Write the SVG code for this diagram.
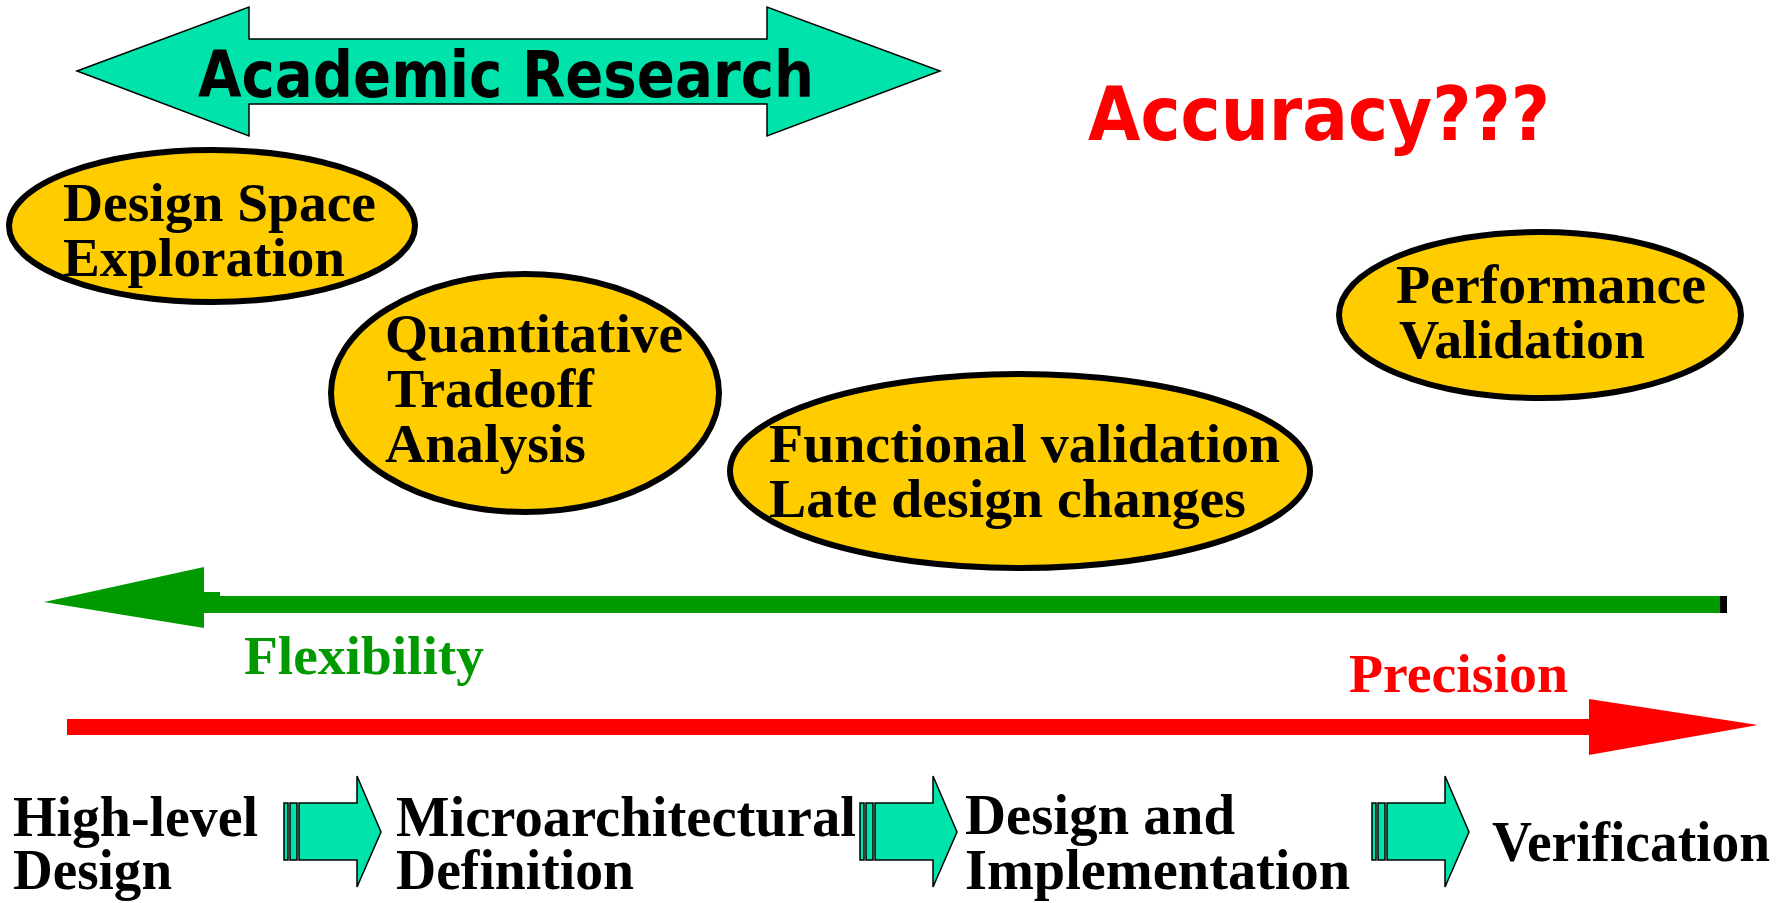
<svg xmlns="http://www.w3.org/2000/svg" xmlns:xlink="http://www.w3.org/1999/xlink" width="1785" height="903" viewBox="0 0 1785 903">
  <style>
    .ell { fill: #FFCC00; stroke: #000; stroke-width: 6; }
    .et { font-family: "Liberation Serif", "Times New Roman", serif; font-weight: bold; font-size: 54px; fill: #000; }
    .bt { font-family: "Liberation Serif", "Times New Roman", serif; font-weight: bold; font-size: 56px; fill: #000; }
    .teal { fill: #00E3AA; stroke: #000; stroke-width: 1.5; stroke-linejoin: miter; }
    .sans { font-family: "DejaVu Sans", Verdana, sans-serif; font-weight: bold; }
  </style>
  <defs>
    <g id="striped-arrow">
      <rect class="teal" x="284" y="803" width="4" height="57"/>
      <rect class="teal" x="290" y="803" width="7" height="57"/>
      <polygon class="teal" points="299,803 357,803 357,776 381,832 357,887 357,860 299,860"/>
    </g>
  </defs>
  <rect width="1785" height="903" fill="#fff"/>

  <g id="academic-research">
    <polygon class="teal" points="77,71 249,7 249,39 767,39 767,7 940,71 767,136 767,104 249,104 249,136"/>
    <text class="sans" x="198" y="97" font-size="64" textLength="616" lengthAdjust="spacingAndGlyphs">Academic Research</text>
  </g>

  <g id="accuracy">
    <text class="sans" x="1088" y="140" font-size="75" fill="#FF0000" textLength="462" lengthAdjust="spacingAndGlyphs">Accuracy???</text>
  </g>

  <g id="design-space-exploration">
    <ellipse class="ell" cx="212" cy="226" rx="203" ry="76"/>
    <text class="et" x="63" y="221" textLength="313" lengthAdjust="spacingAndGlyphs">Design Space</text>
    <text class="et" x="63" y="276" textLength="282" lengthAdjust="spacingAndGlyphs">Exploration</text>
  </g>

  <g id="quantitative-tradeoff">
    <ellipse class="ell" cx="525" cy="393" rx="194" ry="119"/>
    <text class="et" x="385" y="352" textLength="298" lengthAdjust="spacingAndGlyphs">Quantitative</text>
    <text class="et" x="387" y="407" textLength="207" lengthAdjust="spacingAndGlyphs">Tradeoff</text>
    <text class="et" x="385" y="462" textLength="201" lengthAdjust="spacingAndGlyphs">Analysis</text>
  </g>

  <g id="functional-validation">
    <ellipse class="ell" cx="1020" cy="471" rx="290" ry="97"/>
    <text class="et" x="769" y="462" textLength="511" lengthAdjust="spacingAndGlyphs">Functional validation</text>
    <text class="et" x="769" y="517" textLength="477" lengthAdjust="spacingAndGlyphs">Late design changes</text>
  </g>

  <g id="performance-validation">
    <ellipse class="ell" cx="1540" cy="315" rx="201" ry="83"/>
    <text class="et" x="1396" y="303" textLength="310" lengthAdjust="spacingAndGlyphs">Performance</text>
    <text class="et" x="1399" y="358" textLength="246" lengthAdjust="spacingAndGlyphs">Validation</text>
  </g>

  <g id="connectors">
    <!-- Flexibility arrow (green, pointing left) -->
    <rect x="220" y="596" width="1500" height="17" fill="#009900"/>
    <rect x="1720" y="596" width="7" height="17" fill="#000"/>
    <rect x="204" y="592" width="16" height="21" fill="#009900"/>
    <polygon points="44,602 204,567 204,628" fill="#009900"/>
    <!-- Precision arrow (red, pointing right) -->
    <rect x="67" y="719" width="1523" height="16" fill="#FF0000"/>
    <polygon points="1589,699 1758,725 1589,755" fill="#FF0000"/>
    <!-- process flow block arrows -->
    <use xlink:href="#striped-arrow"/>
    <use xlink:href="#striped-arrow" transform="translate(576,0)"/>
    <use xlink:href="#striped-arrow" transform="translate(1088,0)"/>
  </g>

  <g id="axis-labels">
    <text class="et" x="244" y="674" style="fill:#009900" textLength="240" lengthAdjust="spacingAndGlyphs">Flexibility</text>
    <text class="et" x="1349" y="692" style="fill:#FF0000" textLength="219" lengthAdjust="spacingAndGlyphs">Precision</text>
  </g>

  <g id="high-level-design">
    <text class="bt" x="13" y="836" textLength="245" lengthAdjust="spacingAndGlyphs">High-level</text>
    <text class="bt" x="13" y="889" textLength="159" lengthAdjust="spacingAndGlyphs">Design</text>
  </g>
  <g id="microarchitectural-definition">
    <text class="bt" x="396" y="836" textLength="460" lengthAdjust="spacingAndGlyphs">Microarchitectural</text>
    <text class="bt" x="396" y="889" textLength="238" lengthAdjust="spacingAndGlyphs">Definition</text>
  </g>
  <g id="design-implementation">
    <text class="bt" x="965" y="834" textLength="270" lengthAdjust="spacingAndGlyphs">Design and</text>
    <text class="bt" x="965" y="889" textLength="385" lengthAdjust="spacingAndGlyphs">Implementation</text>
  </g>
  <g id="verification">
    <text class="bt" x="1492" y="861" textLength="278" lengthAdjust="spacingAndGlyphs">Verification</text>
  </g>
</svg>
